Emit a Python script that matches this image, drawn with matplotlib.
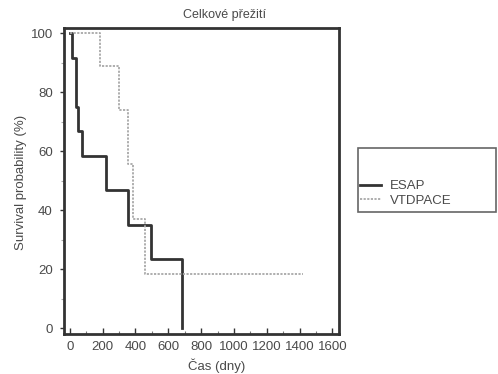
import matplotlib
matplotlib.use("Agg")
import matplotlib.pyplot as plt
from matplotlib.patches import Rectangle
from matplotlib.ticker import MultipleLocator

plt.rcParams['font.family'] = ['Liberation Sans', 'DejaVu Sans']

# Kaplan-Meier steps
esap_t = [0, 16, 36, 41, 50, 75, 223, 355, 496, 686]
esap_s = [100, 91.7, 83.3, 75.0, 66.7, 58.3, 46.7, 35.0, 23.3, 0]
vtd_t = [0, 182, 300, 355, 387, 460, 1423]
vtd_s = [100, 88.9, 74.1, 55.6, 37.0, 18.5, 18.5]
labels = ["ESAP", "VTDPACE"]
xticks = [0, 200, 400, 600, 800, 1000, 1200, 1400, 1600]
yticks = [0, 20, 40, 60, 80, 100]

W, H = 498, 374
fig = plt.figure(figsize=(W / 100, H / 100), dpi=100)
ax = fig.add_axes([64 / W, 1 - 334 / H, (339 - 64) / W, (334 - 28) / H])

dark = '#333333'
txt = '#4a4a4a'
l1, = ax.plot(esap_t, esap_s, drawstyle='steps-post', color=dark, lw=2.0)
l2, = ax.plot(vtd_t, vtd_s, drawstyle='steps-post', color='#a8a8a8', lw=1.3,
              linestyle=(0, (1.2, 0.8)))

ax.set_xlim(-35, 1640)
ax.set_ylim(-2, 101.8)
ax.set_xticks(xticks)
ax.set_yticks(yticks)
ax.xaxis.set_minor_locator(MultipleLocator(100))
ax.yaxis.set_minor_locator(MultipleLocator(10))
ax.tick_params(axis='x', which='major', direction='in', length=4, width=1,
               color=dark, labelsize=9.5, labelcolor=txt, pad=5)
ax.tick_params(axis='x', which='minor', direction='in', length=2.5, width=0.8, color='#777777')
ax.tick_params(axis='y', which='major', direction='out', length=3, width=1,
               color=dark, labelsize=9.5, labelcolor=txt, pad=5)
ax.tick_params(axis='y', which='minor', direction='out', length=2, width=0.8, color='#aaaaaa')
for sp in ax.spines.values():
    sp.set_linewidth(2)
    sp.set_color(dark)

fig.text(225 / W, 1 - 15 / H, "Celkové přežití", ha='center', va='center',
         fontsize=9, color=txt)
fig.text(217 / W, 1 - 366 / H, "Čas (dny)", ha='center', va='center',
         fontsize=9.5, color=txt)
fig.text(21 / W, 1 - 182 / H, "Survival probability (%)", ha='center', va='center',
         rotation=90, fontsize=9.5, color=txt)

# legend box sits outside the axes and runs to the right edge
box = Rectangle((358 / W, 1 - 212 / H), (496 - 358) / W, (212 - 148) / H,
                transform=fig.transFigure, fill=False, edgecolor='#666666', lw=1.2)
fig.add_artist(box)
fig.legend([l1, l2], labels, loc='lower left',
           bbox_to_anchor=(360 / W, 1 - 207 / H), frameon=False, fontsize=9.5,
           handlelength=1.6, handletextpad=0.7, labelspacing=0.2,
           borderpad=0, borderaxespad=0, labelcolor=txt)

fig.savefig("out.png", dpi=100)
